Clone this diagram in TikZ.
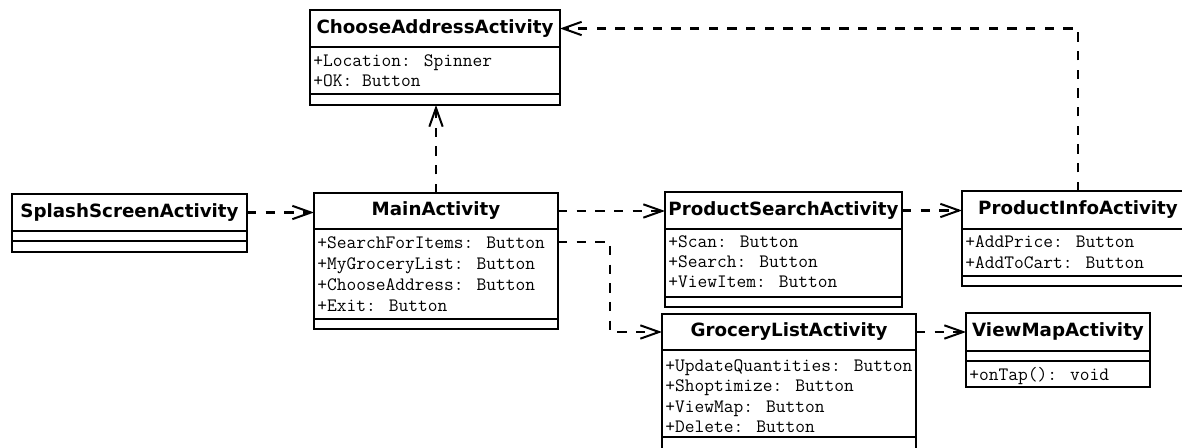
\documentclass[tikz,border=0pt]{standalone}
\usepackage{fontspec}
\newfontfamily\hdrfont{DejaVu Sans}
\usetikzlibrary{arrows.meta,calc}
\newcommand\comp[7]{\node[#1, minimum width={(#5-#3)*0.75pt}, minimum height={(#6-#4)*0.75pt}] (#2) at (#3,#4) {#7};}
\begin{document}
\begin{tikzpicture}[x=0.75pt,y=-0.75pt,
  box/.style={draw=black, line width=1.6pt, inner sep=0pt, outer sep=0pt, anchor=north west},
  hdr/.style={box, font=\hdrfont\bfseries\fontsize{13.7}{16}\selectfont},
  attr/.style={anchor=base west, inner sep=0pt, font=\ttfamily\fontsize{14.2}{16}\selectfont},
  dep/.style={draw=black, line width=1.6pt, dash pattern=on 7pt off 7pt, -{Straight Barb[length=14pt,width=10pt,line width=1.5pt]}}]
\useasboundingbox (0,0) rectangle (1182,448);
\clip (0,0) rectangle (1182,448);

% ChooseAddressActivity
\comp{hdr}{chH}{310}{10}{560}{47}{ChooseAddressActivity}
\comp{box}{chA}{310}{47}{560}{94}{}
\comp{box}{chO}{310}{94}{560}{105}{}
\node[attr] (ch1) at (313,67) {+Location: Spinner};
\node[attr] (ch2) at (313,87) {+OK: Button};

% SplashScreenActivity
\comp{hdr}{spH}{12}{194}{247}{231}{SplashScreenActivity}
\comp{box}{spA}{12}{231}{247}{241}{}
\comp{box}{spO}{12}{241}{247}{252}{}

% MainActivity
\comp{hdr}{mnH}{314}{193}{558}{229}{MainActivity}
\comp{box}{mnA}{314}{229}{558}{319}{}
\comp{box}{mnO}{314}{319}{558}{329}{}
\node[attr] (mn1) at (317,249) {+SearchForItems: Button};
\node[attr] (mn2) at (317,270) {+MyGroceryList: Button};
\node[attr] (mn3) at (317,291) {+ChooseAddress: Button};
\node[attr] (mn4) at (317,312) {+Exit: Button};

% ProductSearchActivity
\comp{hdr}{psH}{665}{192}{902}{229}{ProductSearchActivity}
\comp{box}{psA}{665}{229}{902}{297}{}
\comp{box}{psO}{665}{297}{902}{307}{}
\node[attr] (ps1) at (668,248) {+Scan: Button};
\node[attr] (ps2) at (668,268) {+Search: Button};
\node[attr] (ps3) at (668,288) {+ViewItem: Button};

% ProductInfoActivity
\comp{hdr}{piH}{962}{191}{1194}{229}{ProductInfoActivity}
\comp{box}{piA}{962}{229}{1194}{276}{}
\comp{box}{piO}{962}{276}{1194}{286}{}
\node[attr] (pi1) at (965,248) {+AddPrice: Button};
\node[attr] (pi2) at (965,269) {+AddToCart: Button};

% GroceryListActivity
\comp{hdr}{glH}{662}{314}{916}{350}{GroceryListActivity}
\comp{box}{glA}{662}{350}{916}{437}{}
\comp{box}{glO}{662}{437}{916}{462}{}
\node[attr] (gl1) at (665,372) {+UpdateQuantities: Button};
\node[attr] (gl2) at (665,392) {+Shoptimize: Button};
\node[attr] (gl3) at (665,413) {+ViewMap: Button};
\node[attr] (gl4) at (665,433) {+Delete: Button};

% ViewMapActivity
\comp{hdr}{vmH}{966}{313}{1150}{351}{ViewMapActivity}
\comp{box}{vmA}{966}{351}{1150}{361}{}
\comp{box}{vmO}{966}{361}{1150}{387}{}
\node[attr] (vm1) at (969,381) {+onTap(): void};

% connectors
\draw[dep] (spH.east) -- (spH.east -| mnH.west);
\draw[dep] (mnH.east) -- (mnH.east -| psH.west);
\draw[dep] (psH.east) -- (psH.east -| piH.west);
\draw[dep] (mnH.north) -- (mnH.north |- chO.south);
\draw[dep] (piH.north) |- (chH.east);
\coordinate (mnOut) at ($(mnA.north east)+(0,13)$);
\coordinate (elbow) at ($(mnOut)+(52,0)$);
\draw[dep] (mnOut) -- (elbow) |- (glH.west);
\draw[dep] (glH.east) -- (glH.east -| vmH.west);
\end{tikzpicture}
\end{document}
